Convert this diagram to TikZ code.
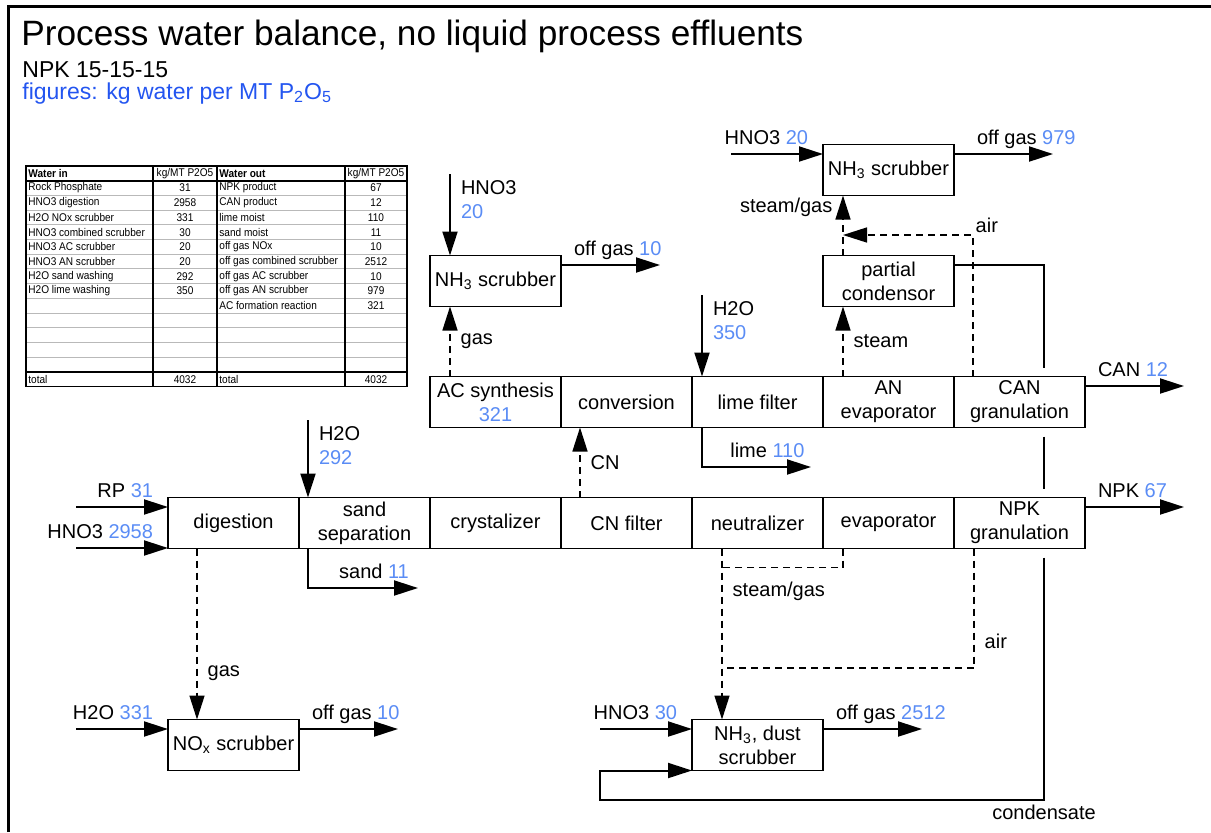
\documentclass[tikz,border=0pt]{standalone}
\usepackage{fontspec}
\setmainfont{Liberation Sans}
\newfontfamily\tablefont[FakeStretch=0.9]{Liberation Sans}
\usepackage{xcolor}
\usetikzlibrary{arrows.meta}
\usetikzlibrary{positioning}
\definecolor{numblue}{RGB}{90,140,245}
\definecolor{headblue}{RGB}{35,85,240}
\newcommand{\kg}[1]{\textcolor{numblue}{#1}}
\tikzset{
    unit_node/.style = {draw=black, line width=0.9pt, fill=white, align=center, inner sep=0pt, outer sep=0pt,
                        minimum width=65.5pt, minimum height=25.5pt, font=\fontsize{10}{12}\selectfont},
    pipe/.style = {line width=1pt},
    flow/.style = {pipe, -{Triangle[length=12pt,width=7.5pt]}},
    vapour/.style = {line width=0.7pt, dash pattern=on 3.5pt off 2.5pt},
    vapour_flow/.style = {vapour, -{Triangle[length=12pt,width=7.5pt]}},
    lbl/.style = {inner sep=1pt, font=\fontsize{10}{12}\selectfont},
    in_lbl/.style = {lbl, anchor=base east, xshift=-6pt, yshift=5pt},
    out_lbl/.style = {lbl, anchor=base west, xshift=5pt, yshift=5pt},
    over_lbl/.style = {lbl, anchor=base, yshift=5pt},
    feed_lbl/.style = {lbl, anchor=north west, align=left, xshift=4pt, yshift=-2pt},
    cell/.style = {inner sep=0pt}
}

\begin{document}
\begin{tikzpicture}[x=0.5pt, y=-0.5pt]
    \useasboundingbox (0,0) rectangle (1211,832);
    \draw[line width=1.5pt] (8,832) -- (8,6) -- (1211,6);

    \node[anchor=base west, inner sep=0pt, font=\fontsize{17.6}{20}\selectfont] (title) at (21,45)
        {Process water balance, no liquid process effluents};
    \node[anchor=base west, inner sep=0pt, font=\fontsize{11.5}{13}\selectfont] (grade) at (22,77) {NPK 15-15-15};
    \node[anchor=base west, inner sep=0pt, font=\fontsize{11.5}{13}\selectfont, text=headblue] (basis) at (22,99)
        {figures: kg water per MT P\textsubscript{2}O\textsubscript{5}};

    % water balance table
    \begin{scope}[font=\tablefont\fontsize{5.6}{6.5}\selectfont]
        \foreach \r in {2,...,13}
            \draw[gray!55, line width=0.5pt] (26,166+14.7*\r) -- (407,166+14.7*\r);
        \draw[line width=1.2pt] (26,180.7) -- (407,180.7) (26,371.8) -- (407,371.8);
        \draw[line width=0.6pt] (153,166) -- (153,386.5) (345,166) -- (345,386.5);
        \draw[line width=1.2pt] (217,166) -- (217,386.5);
        \draw[line width=0.8pt] (26,166) rectangle (407,386.5);
        \node[cell, anchor=west] (in_head) at (28,173.35) {\bfseries Water in};
        \node[cell] (in_unit) at (185,173.35) {kg/MT P2O5};
        \node[cell, anchor=west] (out_head) at (219,173.35) {\bfseries Water out};
        \node[cell] (out_unit) at (376,173.35) {kg/MT P2O5};
        \foreach \r/\a/\b/\c/\d in {1/Rock Phosphate/31/NPK product/67,
                                    2/HNO3 digestion/2958/CAN product/12,
                                    3/H2O NOx scrubber/331/lime moist/110,
                                    4/HNO3 combined scrubber/30/sand moist/11,
                                    5/HNO3 AC scrubber/20/off gas NOx/10,
                                    6/HNO3 AN scrubber/20/off gas combined scrubber/2512,
                                    7/H2O sand washing/292/off gas AC scrubber/10,
                                    8/H2O lime washing/350/off gas AN scrubber/979,
                                    9///AC formation reaction/321,
                                    14/total/4032/total/4032}{
            \node[cell, anchor=west] (in\r) at (28,173.35+14.7*\r) {\a};
            \node[cell] (in_kg\r) at (185,173.35+14.7*\r) {\b};
            \node[cell, anchor=west] (out\r) at (219,173.35+14.7*\r) {\c};
            \node[cell] (out_kg\r) at (376,173.35+14.7*\r) {\d};
        }
    \end{scope}

    % nitrophosphate line
    \node[unit_node] (dig) at (233.5,523) {digestion};
    \node[unit_node, right=0pt of dig] (sand) {sand\\separation};
    \node[unit_node, right=0pt of sand] (cryst) {crystalizer};
    \node[unit_node, right=0pt of cryst] (cnf) {CN filter};
    \node[unit_node, right=0pt of cnf] (neut) {neutralizer};
    \node[unit_node, right=0pt of neut] (evap) {evaporator};
    \node[unit_node, right=0pt of evap] (npkg) {NPK\\granulation};

    % CN conversion line
    \node[unit_node, above=35pt of cryst] (acs) {AC synthesis\\\kg{321}};
    \node[unit_node, right=0pt of acs] (conv) {conversion};
    \node[unit_node, right=0pt of conv] (lime) {lime filter};
    \node[unit_node, right=0pt of lime] (anev) {AN\\evaporator};
    \node[unit_node, right=0pt of anev] (cang) {CAN\\granulation};

    % scrubbers
    \node[unit_node, above=35pt of acs] (nh3a) {NH\textsubscript{3} scrubber};
    \node[unit_node, above=35pt of anev] (pcond) {partial\\condensor};
    \node[unit_node, above=30pt of pcond] (nh3b) {NH\textsubscript{3} scrubber};
    \node[unit_node, below=85.5pt of dig] (nox) {NO\textsubscript{x} scrubber};
    \node[unit_node, below=85.5pt of neut] (dust) {NH\textsubscript{3}, dust\\scrubber};

    \coordinate (rp_in) at (76,507);
    \coordinate (hno3_dig) at (76,548);
    \coordinate (h2o_nox) at (76,729);
    \coordinate (nox_off) at (398,729);
    \coordinate (hno3_dust) at (600,729);
    \coordinate (dust_off) at (922,729);
    \coordinate (hno3_ac) at (450,174);
    \coordinate (ac_off) at (660,265);
    \coordinate (hno3_an) at (731,154);
    \coordinate (an_off) at (1053,154);
    \coordinate (h2o_sand) at (308,420);
    \coordinate (sand_out) at (418,588);
    \coordinate (h2o_lime) at (702,295);
    \coordinate (lime_out) at (811,467);
    \coordinate (can_out) at (1184,386);
    \coordinate (npk_out) at (1184,507);
    \coordinate (an_air) at (973,235);
    \coordinate (an_steam) at ([xshift=10pt]pcond.north west);
    \coordinate (ne_gas) at ([xshift=15pt]neut.south west);
    \coordinate (npk_air) at (974,668);
    \coordinate (cond) at (1044,800);
    \coordinate (cond_loop) at (600,800);

    % feeds and products
    \draw[flow] (rp_in) -- (rp_in -| dig.west) node[in_lbl] {RP \kg{31}};
    \draw[flow] (hno3_dig) -- (hno3_dig -| dig.west) node[in_lbl] {HNO3 \kg{2958}};
    \draw[flow] (h2o_nox) -- (h2o_nox -| nox.west) node[in_lbl] {H2O \kg{331}};
    \draw[flow] (nox_off -| nox.east) node[out_lbl] {off gas \kg{10}} -- (nox_off);
    \draw[flow] (hno3_dust) -- (hno3_dust -| dust.west) node[in_lbl] {HNO3 \kg{30}};
    \draw[flow] (dust_off -| dust.east) node[out_lbl] {off gas \kg{2512}} -- (dust_off);
    \draw[flow] (hno3_ac) node[feed_lbl] {HNO3\\\kg{20}} -- (hno3_ac |- nh3a.north);
    \draw[flow] (ac_off -| nh3a.east) node[out_lbl] {off gas \kg{10}} -- (ac_off);
    \draw[flow] (hno3_an) -- (hno3_an -| nh3b.west) node[in_lbl] {HNO3 \kg{20}};
    \draw[flow] (an_off -| nh3b.east) node[out_lbl, xshift=5pt] {off gas \kg{979}} -- (an_off);
    \draw[flow] (h2o_sand) node[feed_lbl] {H2O\\\kg{292}} -- (h2o_sand |- sand.north);
    \draw[flow] (h2o_sand |- sand.south) |- node[over_lbl, pos=0.8] {sand \kg{11}} (sand_out);
    \draw[flow] (h2o_lime) node[feed_lbl] {H2O\\\kg{350}} -- (h2o_lime |- lime.north);
    \draw[flow] (h2o_lime |- lime.south) |- node[over_lbl, pos=0.8] {lime \kg{110}} (lime_out);
    \draw[flow] (can_out -| cang.east) node[out_lbl] {CAN \kg{12}} -- (can_out);
    \draw[flow] (npk_out -| npkg.east) node[out_lbl] {NPK \kg{67}} -- (npk_out);

    % gas and steam
    \draw[vapour_flow] ([xshift=10pt]acs.north west) -- node[lbl, right=4pt] {gas} ([xshift=10pt]nh3a.south west);
    \draw[vapour_flow] ([xshift=9.5pt]cnf.north west) -- node[lbl, right=4pt] {CN} ([xshift=9.5pt]conv.south west);
    \draw[vapour_flow] ([xshift=10pt]anev.north west) -- node[lbl, right=4pt] {steam} (an_steam |- pcond.south);
    \draw[vapour_flow] (an_steam) -- node[lbl, left=4pt, pos=0.8] {steam/gas} (an_steam |- nh3b.south);
    \draw[vapour_flow] (an_air |- cang.north) -- (an_air) node[lbl, above right=0pt] {air} -- (an_air -| an_steam);
    \draw[vapour_flow] ([xshift=14.5pt]dig.south west) -- node[lbl, right=4pt, pos=0.73] {gas} ([xshift=14.5pt]nox.north west);
    \draw[vapour_flow] (ne_gas) -- node[lbl, right=4pt, pos=0.25] {steam/gas} (ne_gas |- dust.north);
    \draw[vapour] ([xshift=10pt]evap.south west) |- ([yshift=-9.5pt]ne_gas);
    \draw[vapour] (npk_air |- npkg.south) -- node[lbl, right=4pt, pos=0.78] {air} (npk_air) -- (npk_air -| ne_gas);

    % condensate return
    \draw[pipe] ([yshift=-4.5pt]pcond.north east) -| ([yshift=4.5pt]cond |- cang.north);
    \draw[pipe] ([yshift=-4.5pt]cond |- cang.south) -- ([yshift=4.5pt]cond |- npkg.north);
    \draw[flow] ([yshift=-4.5pt]cond |- npkg.south) -- (cond) node[lbl, below=1pt] {condensate}
        -- (cond_loop) |- (dust.south west);
\end{tikzpicture}
\end{document}
